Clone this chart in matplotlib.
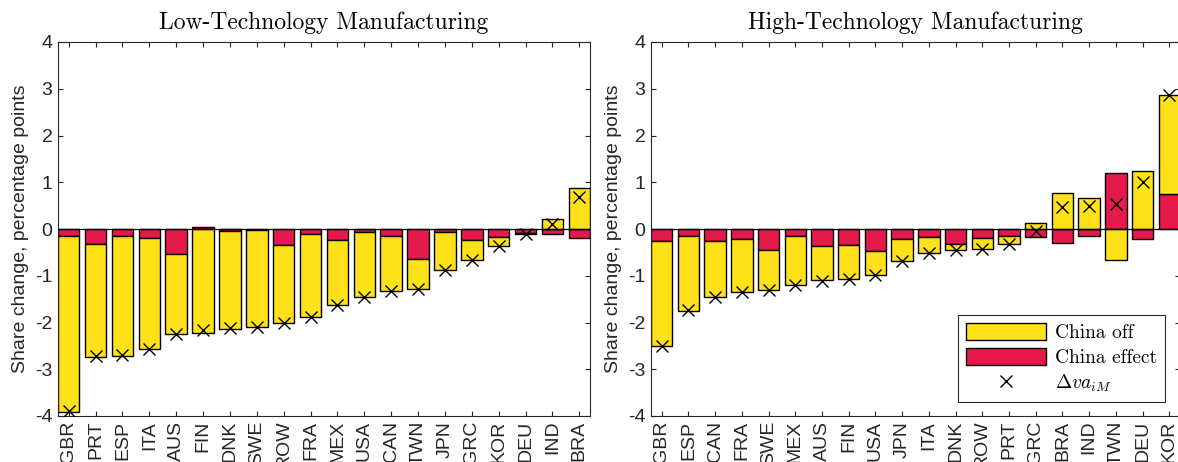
#!/usr/bin/env python3

import numpy as np
import matplotlib
matplotlib.use('Agg')
import matplotlib.pyplot as plt
from matplotlib.patches import Patch
from matplotlib.lines import Line2D


low_countries = ['GBR', 'PRT', 'ESP', 'ITA', 'AUS', 'FIN', 'DNK', 'SWE', 'ROW', 'FRA',
                 'MEX', 'USA', 'CAN', 'TWN', 'JPN', 'GRC', 'KOR', 'DEU', 'IND', 'BRA']
low_china_off = [-3.77, -2.40, -2.55, -2.37, -1.72, -2.22, -2.09, -2.08, -1.66, -1.78,
                 -1.40, -1.39, -1.17, -0.65, -0.82, -0.43, -0.19, -0.02, 0.22, 0.87]
low_china_effect = [-0.14, -0.33, -0.16, -0.20, -0.53, 0.04, -0.05, -0.02, -0.34, -0.11,
                    -0.23, -0.07, -0.16, -0.64, -0.06, -0.23, -0.18, -0.08, -0.11, -0.20]
low_delta = [-3.89, -2.72, -2.70, -2.56, -2.24, -2.17, -2.12, -2.10, -2.00, -1.89,
             -1.62, -1.45, -1.33, -1.29, -0.88, -0.66, -0.36, -0.10, 0.11, 0.69]

high_countries = ['GBR', 'ESP', 'CAN', 'FRA', 'SWE', 'MEX', 'AUS', 'FIN', 'USA', 'JPN',
                  'ITA', 'DNK', 'ROW', 'PRT', 'GRC', 'BRA', 'IND', 'TWN', 'DEU', 'KOR']
high_china_off = [-2.26, -1.60, -1.21, -1.13, -0.86, -1.04, -0.73, -0.72, -0.51, -0.48,
                  -0.34, -0.12, -0.23, -0.18, 0.135, 0.78, 0.66, -0.67, 1.23, 2.13]
high_china_effect = [-0.25, -0.15, -0.25, -0.21, -0.45, -0.16, -0.37, -0.35, -0.48, -0.21,
                     -0.18, -0.33, -0.20, -0.15, -0.18, -0.31, -0.15, 1.20, -0.21, 0.74]
high_delta = [-2.51, -1.74, -1.46, -1.34, -1.31, -1.20, -1.11, -1.08, -0.99, -0.69,
              -0.52, -0.45, -0.43, -0.33, -0.04, 0.48, 0.50, 0.53, 1.01, 2.87]

yellow = '#ffe119'
red = '#e6194b'
spine_color = '#262626'

plt.rcParams['mathtext.fontset'] = 'cm'
plt.rcParams['axes.unicode_minus'] = False
sans = ['Liberation Sans', 'DejaVu Sans']


def panel(ax, countries, china_off, china_effect, delta, title):
	x = np.arange(1, len(countries) + 1)
	off = np.array(china_off)
	eff = np.array(china_effect)
	# china effect sits on the baseline, china off stacks on it when signs agree
	off_bottom = np.where(np.sign(off) == np.sign(eff), eff, 0.0)

	ax.bar(x, eff, width=0.8, color=red, edgecolor='black', linewidth=1.0, zorder=2)
	ax.bar(x, off, width=0.8, bottom=off_bottom, color=yellow, edgecolor='black', linewidth=1.0, zorder=2)
	ax.axhline(0, color='black', linewidth=0.9, zorder=3)
	ax.plot(x, delta, linestyle='none', marker='x', color='black', markersize=9, markeredgewidth=1.0, zorder=4)

	ax.set_xlim(0.6, len(countries) + 0.4)
	ax.set_ylim(-4, 4)
	ax.set_xticks(x)
	ax.set_xticklabels(countries, rotation=90, family=sans, fontsize=14, color=spine_color)
	ax.set_yticks(np.arange(-4, 5))
	ax.set_yticklabels([str(v) for v in range(-4, 5)], family=sans, fontsize=14, color=spine_color)
	ax.tick_params(direction='in', length=3.5, width=0.8, colors=spine_color, top=True, right=True)
	ax.tick_params(axis='x', pad=3.5)
	ax.tick_params(axis='y', pad=4)
	for s in ax.spines.values():
		s.set_color(spine_color)
		s.set_linewidth(0.8)
	ax.set_ylabel('Share change, percentage points', family=sans, fontsize=14, color=spine_color, labelpad=4)
	ax.set_title(title, family='cmr10', fontsize=17, pad=9)


fig = plt.figure(figsize=(11.78, 4.62), dpi=100)
ax1 = fig.add_axes([58 / 1178, 46 / 462, 532 / 1178, 374 / 462])
ax2 = fig.add_axes([651 / 1178, 46 / 462, 529 / 1178, 374 / 462])

panel(ax1, low_countries, low_china_off, low_china_effect, low_delta, 'Low-Technology Manufacturing')
panel(ax2, high_countries, high_china_off, high_china_effect, high_delta, 'High-Technology Manufacturing')

handles = [Patch(facecolor=yellow, edgecolor='black', linewidth=1.0),
           Patch(facecolor=red, edgecolor='black', linewidth=1.0),
           Line2D([], [], linestyle='none', marker='x', color='black', markersize=9, markeredgewidth=1.0)]
leg = ax2.legend(handles, ['China off', 'China effect', r'$\Delta va_{iM}$'],
                 loc='lower right', bbox_to_anchor=(0.972, 0.038), borderaxespad=0,
                 prop={'family': 'cmr10', 'size': 14}, fancybox=False, framealpha=1,
                 edgecolor=spine_color, handlelength=4.1, handleheight=0.96,
                 labelspacing=0.3, handletextpad=0.5, borderpad=0.4)
leg.get_frame().set_linewidth(0.8)

fig.savefig('out.png', dpi=100)
